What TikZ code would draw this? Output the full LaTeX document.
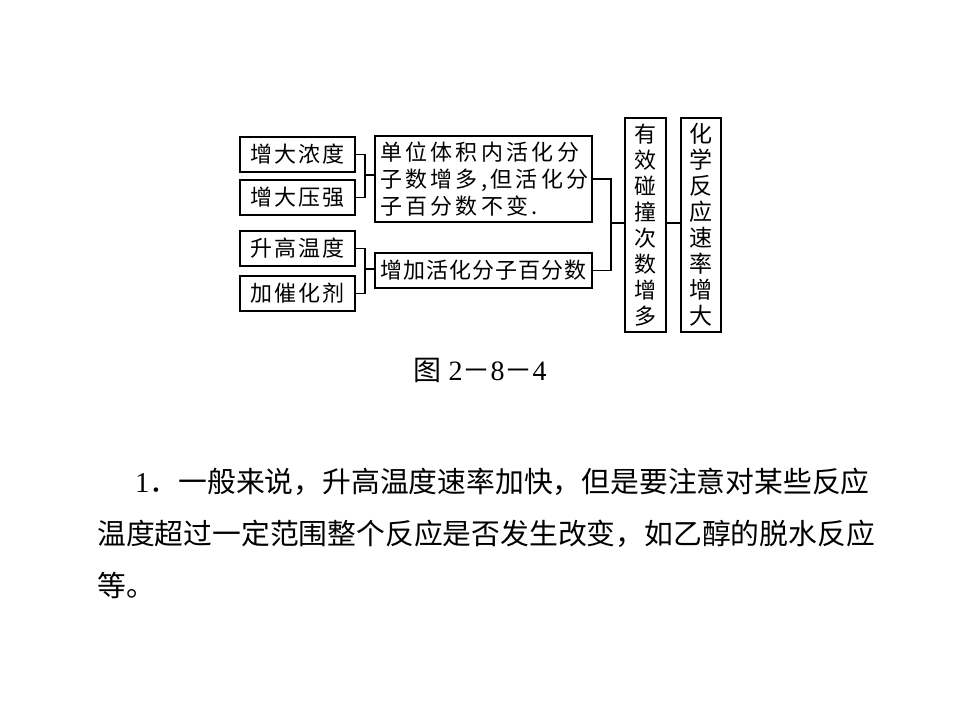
\documentclass[tikz,border=0pt]{standalone}
\usepackage{fontspec}
\setmainfont{Liberation Serif}
\newfontfamily\cjk[LetterSpace=10]{Noto Sans CJK SC}
\newfontfamily\cjkwide[LetterSpace=15]{Noto Sans CJK SC}
\newfontfamily\cjknarrow[LetterSpace=5]{Noto Sans CJK SC}
\newfontfamily\cjkbody{Noto Sans CJK SC}
\usetikzlibrary{positioning}

\begin{document}
\begin{tikzpicture}[x=1pt, y=-1pt, on grid,
    box/.style={draw, line width=1.8pt, inner sep=0pt},
    factor/.style={box, minimum width=115pt, minimum height=35pt, font=\cjk\fontsize{22}{26}\selectfont},
    effect/.style={box, minimum width=217pt, align=left, font=\cjkwide\fontsize{22}{27}\selectfont},
    tall/.style={box, minimum height=214pt, align=center, font=\cjkbody\fontsize{22}{26}\selectfont},
    wire/.style={line width=1.5pt}]
  \useasboundingbox (0,0) rectangle (960,720);
   % left column
   \node[factor] (conc) at (297.5,154.5) {增大浓度};
   \node[factor] (pres) [below=43pt of conc] {增大压强};
   \node[factor] (temp) [below=51pt of pres] {升高温度};
   \node[factor] (cata) [below=45pt of temp] {加催化剂};
   % middle column
   \node[effect, minimum height=86pt, text width=207pt] (unit) at (483.5,179) {单位体积内活化分\\子数增多,但活化分\\子百分数不变.};
   \node[effect, minimum height=35pt, font=\cjknarrow\fontsize{22}{26}\selectfont] (frac) [below=91.5pt of unit] {增加活化分子百分数};
   % right column
   \node[tall, minimum width=41pt] (coll) at (645.5,225) {有\\效\\碰\\撞\\次\\数\\增\\多};
   \node[tall, minimum width=40pt, font=\cjkbody\fontsize{23}{26}\selectfont] (rate) [right=55.5pt of coll] {化\\学\\反\\应\\速\\率\\增\\大};
   % junctions
   \coordinate (jl1) at (365,175);
   \coordinate (jl2) at (365,269);
   \coordinate (jr) at (611,223);
   \draw[wire] (conc.east) -| (jl1) |- (pres.east);
   \draw[wire] (jl1) -- (jl1 -| unit.west);
   \draw[wire] (temp.east) -| (jl2) |- (cata.east);
   \draw[wire] (jl2) -- (jl2 -| frac.west);
   \draw[wire] (unit.east) -| (jr) |- (frac.east);
   \draw[wire] (jr) -- (jr -| coll.west);
   \draw[wire] (jr -| coll.east) -- (jr -| rate.west);
   % caption and note
   \node[font=\fontsize{28}{32}\selectfont] (fig) at (480,370) {{\cjkbody 图} 2{\cjkbody －}8{\cjkbody －}4};
   \node[anchor=north west, inner sep=0pt, align=left, font=\cjkbody\fontsize{28.8}{52}\selectfont] (note) at (97,468) {\hspace*{38pt}{\rmfamily 1}．一般来说，升高温度速率加快，但是要注意对某些反应\\温度超过一定范围整个反应是否发生改变，如乙醇的脱水反应\\等。};
\end{tikzpicture}
\end{document}
